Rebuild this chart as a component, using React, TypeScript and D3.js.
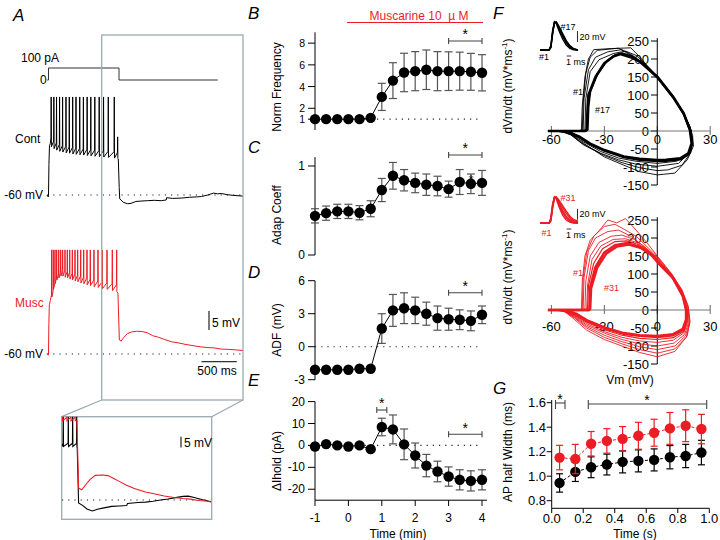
import React from "react";
import * as d3 from "d3";

const FF = "'Liberation Sans', Arial, Helvetica, sans-serif";
const RED = "#ec1c24";

// ---------------- Panels B–E ----------------
const timeMin = [-1, -0.667, -0.333, 0, 0.333, 0.667, 1, 1.333, 1.667, 2, 2.333, 2.667, 3, 3.333, 3.667, 4];
const normFreq = [1, 1, 1, 1, 1, 1.12, 3.05, 4.55, 5.3, 5.42, 5.55, 5.42, 5.42, 5.42, 5.36, 5.27];
const normFreqErr = [0, 0, 0, 0, 0, 0, 1.25, 1.65, 1.77, 1.8, 1.82, 1.8, 1.78, 1.75, 1.7, 1.67];
const adapCoeff = [0.44, 0.47, 0.49, 0.49, 0.475, 0.52, 0.73, 0.89, 0.84, 0.81, 0.79, 0.775, 0.74, 0.82, 0.8, 0.81];
const adapErr = [0.08, 0.08, 0.08, 0.08, 0.08, 0.09, 0.13, 0.15, 0.12, 0.11, 0.12, 0.11, 0.09, 0.14, 0.11, 0.14];
const adfMv = [-2.1, -2.1, -2.1, -2.1, -2.0, -2.0, 1.65, 3.3, 3.5, 3.3, 3.0, 2.6, 2.5, 2.45, 2.35, 2.9];
const adfErr = [0, 0, 0, 0, 0, 0, 1.35, 1.45, 1.4, 1.2, 1.05, 1.1, 1.0, 0.9, 0.9, 0.8];
const iholdPa = [-0.5, 0.6, 0, -0.5, 0, -1.7, 8.4, 7.3, 0.5, -4.6, -9.2, -11.9, -14.2, -15.7, -16.2, -15.7];
const iholdErr = [0.8, 0.8, 0.8, 0.8, 0.8, 0.8, 4, 6.6, 7, 5.7, 5.1, 4.7, 4.4, 4.6, 4.6, 4.6];
const bTicks = [1, 2, 4, 6, 8];
const cTicks = [0, 1];
const dTicks = [-3, 0, 3, 6];
const eTicks = [-20, -10, 0, 10, 20];
const timeTicks = [-1, 0, 1, 2, 3, 4];

// ---------------- Panel G ----------------
const gTime = [0.05, 0.15, 0.25, 0.35, 0.45, 0.55, 0.65, 0.75, 0.85, 0.95];
const gCont = [0.945, 1.035, 1.073, 1.095, 1.117, 1.125, 1.133, 1.155, 1.165, 1.193];
const gContErr = [0.075, 0.078, 0.085, 0.085, 0.09, 0.09, 0.09, 0.095, 0.095, 0.1];
const gMusc = [1.152, 1.14, 1.265, 1.288, 1.305, 1.33, 1.355, 1.39, 1.412, 1.385];
const gMuscErr = [0.1, 0.12, 0.1, 0.1, 0.1, 0.11, 0.11, 0.13, 0.13, 0.12];
const gYTicks = [0.8, 1.0, 1.2, 1.4, 1.6];
const gXTicks = [0, 0.2, 0.4, 0.6, 0.8, 1.0];

// ---------------- Panel A traces (time ms, mV) ----------------
const stepT = [-20, 0, 0, 1000, 1000, 2400];
const stepPa = [0, 0, 100, 100, 0, 0];

const contPre: [number, number][] = [[-25, -60], [-3, -60.5], [0, -60], [6, -52], [14, -47], [25, -46.5]];
const contSpikeT = [38, 76, 114, 157, 200, 248, 295, 343, 390, 443, 495, 548, 600, 657, 719, 781, 848, 933, 981];
const contPeak = [-34.2, -34.2, -34.2, -34.2, -34.2, -34.2, -34.2, -34.2, -34.2, -34.2, -34.2, -34.2, -34.2, -34.2, -34.2, -34.2, -34.2, -34.2, -44.7];
const contTrough = [-47.3, -47.8, -48.2, -48.5, -48.7, -48.9, -49.0, -49.2, -49.3, -49.4, -49.5, -49.6, -49.7, -49.8, -49.9, -50.0, -50.1, -50.3, -50.4];
const contPost: [number, number][] = [[990, -50.5], [1003, -58], [1010, -61], [1060, -61.9], [1120, -62.3], [1170, -62.2], [1240, -61.7], [1310, -61.6], [1400, -61.5], [1500, -61.4], [1600, -61.5], [1670, -61.3], [1675, -60.7], [1760, -60.9], [1890, -60.8], [2000, -60.6], [2100, -60.5], [2170, -60.4], [2260, -60], [2340, -59.5], [2400, -59.7], [2450, -59.6], [2530, -59.9], [2620, -60.1], [2760, -60.3]];

const muscPre: [number, number][] = [[-25, -60], [-3, -60.3], [0, -60], [5, -52], [12, -47], [25, -46]];
const muscSpikeT = [45, 68, 92, 116, 145, 173, 201, 234, 267, 301, 338, 376, 414, 457, 499, 546, 593, 645, 702, 763, 830, 905, 967];
const muscPeak = [-32.6, -32.6, -32.6, -32.6, -32.6, -32.6, -32.6, -32.6, -32.6, -32.6, -32.6, -32.6, -32.6, -32.6, -32.6, -32.6, -32.6, -32.6, -32.6, -32.6, -32.6, -32.6, -32.6];
const muscTrough = [-45, -43, -41.5, -40.5, -40, -39.5, -39.5, -39.8, -40, -40.3, -40.5, -40.8, -41, -41.3, -41.5, -41.8, -42, -42.3, -42.5, -42.8, -43, -43.3, -43.6];
const muscPost: [number, number][] = [[985, -44], [995, -50], [1005, -56.3], [1030, -56.6], [1070, -55.6], [1120, -54.6], [1180, -54.2], [1250, -54.0], [1330, -54.1], [1400, -54.4], [1480, -55.2], [1560, -55.6], [1650, -56.2], [1750, -56.8], [1850, -57.1], [1950, -57.5], [2050, -57.8], [2150, -58.1], [2250, -58.3], [2350, -58.4], [2450, -58.7], [2550, -58.8], [2650, -58.9], [2760, -59.1]];

const insetContSpikeT = [804, 871, 929, 983];
const insetContPeak = [-18, -18, -18, -18];
const insetContTrough = [-35, -35, -35, -35];
const insetContPost: [number, number][] = [[990, -36], [1000, -50], [1008, -61.4], [1060, -62.5], [1120, -64.2], [1190, -65.1], [1260, -64.3], [1330, -63.8], [1450, -63], [1550, -62.8], [1650, -62.6], [1660, -61.6], [1800, -61.2], [1900, -61], [2000, -60.6], [2100, -60], [2200, -59.5], [2300, -58.9], [2400, -58.3], [2470, -58.2], [2550, -58.8], [2650, -59.8], [2773, -60.8]];
const insetMuscSpikeT = [795, 850, 905, 960];
const insetMuscPeak = [-18, -18, -18, -18];
const insetMuscTrough = [-23, -23, -23, -23];
const insetMuscPost: [number, number][] = [[985, -23], [998, -40], [1008, -54.4], [1050, -55.2], [1100, -53], [1160, -50.5], [1230, -48.5], [1320, -48.3], [1400, -48.6], [1470, -49.8], [1550, -51.3], [1640, -53], [1750, -54.6], [1900, -56.3], [2030, -57.2], [2150, -58.1], [2280, -58.8], [2400, -59.3], [2500, -59.6], [2600, -60.2], [2700, -60.5], [2773, -60.9]];

// ---------------- Panel F: phase plots (Vm, dVm/dt) ----------------
type P = [number, number];
const contLoops: P[][] = [
  [[-61, 0], [-50, 0], [-45, 0], [-43, 3], [-42.5, 70], [-41, 150], [-39, 200], [-36, 226], [-26, 229], [-15, 231], [-10, 206], [-5, 178], [0, 151], [8, 103], [14, 58], [18, 18], [20, -12], [20.5, -42], [17, -80], [10, -117], [0, -122], [-10, -113], [-19, -95], [-30, -72], [-44, -27], [-51, -2], [-56, 0]],
  [[-61, 0], [-50, 0], [-44, 0], [-42.5, 3], [-42, 80], [-40.5, 160], [-38, 205], [-34, 224], [-22, 230], [-13, 205], [-5, 177], [0, 152], [8, 102], [14, 57], [18.5, 13], [20, -25], [19, -60], [14, -95], [6, -108], [0, -110], [-10, -102], [-20, -88], [-30, -68], [-42, -38], [-49, -10], [-55, 0]],
  [[-61, 0], [-50, 0], [-43, 0], [-42, 3], [-41.5, 90], [-39, 170], [-35, 205], [-28, 220], [-20, 226], [-14, 210], [-6, 181], [0, 153], [9, 97], [15, 51], [19, 6], [20, -33], [18, -62], [12, -90], [0, -98], [-12, -92], [-22, -80], [-32, -62], [-42, -36], [-49, -11], [-55, 0]],
  [[-61, 0], [-50, 0], [-42, 0], [-41, 3], [-40.5, 90], [-38, 165], [-33, 198], [-25, 215], [-18, 222], [-12, 210], [-6, 182], [0, 152], [9, 96], [15, 49], [19, 3], [19.7, -35], [17.5, -64], [11, -84], [0, -90], [-12, -84], [-22, -75], [-32, -57], [-42, -30], [-50, -6], [-55, 0]],
  [[-62, 0], [-52, 0], [-41, 0], [-40, 4], [-39.5, 60], [-39, 100], [-35, 150], [-30, 188], [-25, 207], [-21, 214], [-15, 205], [-10, 193], [0, 151], [9, 95], [15, 49], [18.5, 3], [19.5, -34], [17.6, -62], [13, -76], [5, -80], [0, -80.5], [-10, -77], [-19, -71], [-30, -53], [-38, -35], [-44, -16], [-51, -2], [-56, 0]],
  [[-62, 0], [-52, 0], [-40.5, 0], [-39.5, 4], [-39, 70], [-38, 110], [-34, 158], [-29, 192], [-24, 210], [-20, 216], [-14, 206], [-9, 190], [0, 149], [9, 93], [15, 47], [18.8, 0], [19.8, -36], [18, -64], [13, -79], [5, -83], [0, -84], [-10, -80], [-19, -73], [-30, -55], [-38, -37], [-44, -18], [-51, -3], [-56, 0]],
];
const contLoopWidth = [0.9, 0.9, 0.9, 0.9, 2.6, 2.2];

const muscLoops: P[][] = [
  [[-61, 0], [-50, 0], [-44, 0], [-43, 3], [-42.5, 80], [-41, 150], [-38, 194], [-33, 220], [-28, 250], [-23, 242], [-18, 254], [-12, 222], [-6, 188], [0, 150], [8, 102], [14, 56], [17.5, 12], [18.5, -30], [17, -72], [10, -115], [0, -130], [-10, -118], [-20, -100], [-30, -82], [-40, -56], [-47, -26], [-52, -6], [-57, 0]],
  [[-61, 0], [-50, 0], [-43, 0], [-42.5, 3], [-42, 90], [-40, 160], [-36, 205], [-30, 232], [-24, 238], [-19, 225], [-12, 205], [-5, 172], [0, 148], [8, 100], [14, 54], [17.5, 8], [18.5, -35], [16.5, -75], [10, -108], [0, -120], [-10, -110], [-20, -94], [-30, -76], [-40, -50], [-47, -22], [-53, -3], [-57, 0]],
  [[-61, 0], [-50, 0], [-42.5, 0], [-42, 3], [-41.5, 90], [-39, 165], [-35, 200], [-28, 218], [-22, 222], [-15, 205], [-7, 175], [0, 145], [8, 98], [14, 52], [17.5, 5], [18, -38], [16, -72], [10, -100], [0, -110], [-10, -102], [-20, -88], [-30, -70], [-40, -46], [-47, -20], [-53, -3], [-57, 0]],
  [[-61, 0], [-50, 0], [-42, 0], [-41, 3], [-40.5, 80], [-38, 150], [-33, 188], [-26, 205], [-20, 208], [-13, 196], [-6, 170], [0, 142], [8, 96], [14, 50], [17, 4], [17.5, -38], [15.5, -68], [9.5, -92], [0, -100], [-10, -94], [-20, -82], [-30, -64], [-40, -42], [-47, -18], [-53, -2], [-57, 0]],
  [[-61, 0], [-50, 0], [-41, 0], [-40, 3], [-39.5, 70], [-37, 140], [-32, 178], [-25, 196], [-18, 198], [-12, 188], [-5, 165], [0, 139], [8, 94], [14, 46], [16.8, 2], [17, -36], [15, -64], [9, -84], [0, -90], [-10, -86], [-20, -76], [-30, -60], [-40, -38], [-47, -16], [-53, -2], [-57, 0]],
  [[-61, 0], [-50, 0], [-40, 0], [-39.5, 3], [-39, 68], [-36, 130], [-31, 170], [-24, 190], [-17, 192], [-11, 182], [-4, 160], [0, 138], [8, 92], [14, 44], [16.7, 1], [16.8, -32], [15, -60], [9, -77], [0, -82], [-10, -79], [-20, -70], [-30, -55], [-40, -34], [-47, -14], [-53, -2], [-57, 0]],
  [[-62, 0], [-52, 0], [-39, 0], [-38.5, 3], [-38, 65], [-35, 120], [-30, 160], [-24, 180], [-17, 186], [-10, 175], [-4, 155], [0, 136], [9, 90], [14.5, 40], [16.6, 0], [16.6, -28], [15, -55], [9, -70], [0, -75], [-10, -72], [-19, -66], [-30, -50], [-40, -30], [-46, -12], [-52, -1], [-57, 0]],
  [[-62, 0], [-52, 0], [-38.5, 0], [-38, 3], [-37.5, 60], [-34, 118], [-29, 156], [-23, 176], [-16, 182], [-9, 172], [-3, 152], [0, 133], [9, 88], [14.5, 38], [16.3, 0], [16.3, -26], [14.5, -52], [9, -67], [0, -72], [-10, -70], [-19, -64], [-30, -48], [-40, -28], [-46, -10], [-52, -1], [-57, 0]],
];
const muscLoopWidth = [0.9, 0.9, 0.9, 0.9, 0.9, 1.2, 2.4, 2.4];

const fXTicks = [-60, -30, 0, 30];
const fYTicks = [-150, -100, -50, 0, 50, 100, 150, 200, 250];

// small AP waveforms (ms, mV)
const apT = [0, 2.0, 2.4, 2.8, 3.2, 3.6, 4.2, 5.0, 5.8, 6.6, 7.4, 8.4];
const apCont: number[][] = [
  [-60, -60, -52, -24, -9, -12, -25, -40, -51, -57, -59.5, -60],
  [-60, -60, -54, -27, -9.5, -10.5, -21, -35, -47, -55, -58.5, -60],
  [-60, -60, -55, -29, -10, -9.5, -19, -32, -45, -53.5, -58, -60],
  [-60, -60, -56, -30, -10, -9, -17, -30, -43, -52, -57.5, -60],
];
const apMusc: number[][] = [
  [-60, -60, -50, -24, -12, -16, -30, -45, -54, -58, -59.5, -60],
  [-60, -60, -52, -27, -12.5, -14, -26, -40, -50, -56, -58.5, -59.5],
  [-60, -60, -53, -28, -12.5, -13, -24, -37, -47, -53.5, -57, -58.5],
  [-60, -60, -55, -30, -13, -12.5, -21, -32, -42, -50, -55, -57.5],
  [-60, -60, -56, -32, -14, -12, -18, -28, -38, -47, -53, -56],
];

function spikeTrace(pre: P[], ts: number[], peaks: number[], troughs: number[], post: P[]): P[] {
  const pts: P[] = [...pre];
  let prev = pre[pre.length - 1][1];
  ts.forEach((t, i) => {
    pts.push([t - 3, prev + 1.5]);
    pts.push([t, peaks[i]]);
    pts.push([t + 3, troughs[i]]);
    prev = troughs[i];
  });
  return pts.concat(post);
}

function ErrSeries({ x, y, xs, vals, errs, color, errColor, cap, dashed, r }: any) {
  const line = d3.line<number>().x((_, i) => x(xs[i])).y((v) => y(v));
  return (
    <g>
      <path d={line(vals) || ""} fill="none" stroke={color} strokeWidth={1} strokeDasharray={dashed ? "3,2" : undefined} />
      {vals.map((v: number, i: number) =>
        errs[i] > 0 ? (
          <g key={"e" + i} stroke={errColor} strokeWidth={1.2}>
            <line x1={x(xs[i])} x2={x(xs[i])} y1={y(v - errs[i])} y2={y(v + errs[i])} />
            <line x1={x(xs[i]) - cap} x2={x(xs[i]) + cap} y1={y(v - errs[i])} y2={y(v - errs[i])} />
            <line x1={x(xs[i]) - cap} x2={x(xs[i]) + cap} y1={y(v + errs[i])} y2={y(v + errs[i])} />
          </g>
        ) : null
      )}
      {vals.map((v: number, i: number) => (
        <circle key={"c" + i} cx={x(xs[i])} cy={y(v)} r={r} fill={color} />
      ))}
    </g>
  );
}

function Bracket({ x1, x2, y, star, sy, size = 14 }: any) {
  return (
    <g stroke="#444" strokeWidth={1.1}>
      <line x1={x1} x2={x2} y1={y} y2={y} />
      <line x1={x1} x2={x1} y1={y - 3} y2={y + 3} />
      <line x1={x2} x2={x2} y1={y - 3} y2={y + 3} />
      {star && (
        <text x={(x1 + x2) / 2} y={sy} textAnchor="middle" fontSize={size} stroke="none" fill="#000">
          *
        </text>
      )}
    </g>
  );
}

function TimePanel({ y, vals, errs, ticks, top, bottom, refLine, label, labelY, tickFont = 12 }: any) {
  const xT = d3.scaleLinear().domain([-1, 4]).range([315, 482]);
  return (
    <g>
      <line x1={315} x2={315} y1={y(top)} y2={y(bottom)} stroke="#000" strokeWidth={1} />
      {ticks.map((t: number) => (
        <g key={t}>
          <line x1={308} x2={315} y1={y(t)} y2={y(t)} stroke="#000" />
          <text x={305} y={y(t)} textAnchor="end" dominantBaseline="central" fontSize={tickFont}>
            {String(t)}
          </text>
        </g>
      ))}
      {refLine !== undefined && (
        <line x1={315} x2={482} y1={y(refLine)} y2={y(refLine)} stroke="#222" strokeWidth={1.1} strokeDasharray="1.2,5" />
      )}
      <ErrSeries x={xT} y={y} xs={timeMin} vals={vals} errs={errs} color="#000" errColor="#555" cap={4} r={5.2} />
      <text transform={`translate(281,${labelY}) rotate(-90)`} textAnchor="middle" fontSize={12}>
        {label}
      </text>
    </g>
  );
}

function PhasePanel({ y, loops, widths, color, xLabelDy }: any) {
  const xF = d3.scaleLinear().domain([-60, 30]).range([551.4, 710.2]);
  const line = d3.line<P>().x((d) => xF(d[0])).y((d) => y(d[1]));
  const y0 = y(0);
  return (
    <g>
      {fYTicks.map((t) => (
        <g key={t}>
          <text x={649} y={y(t)} textAnchor="end" dominantBaseline="central" fontSize={13}>
            {String(t)}
          </text>
          <line x1={651} x2={xF(0)} y1={y(t)} y2={y(t)} stroke="#000" />
        </g>
      ))}
      {fXTicks.map((t) => (
        <g key={t}>
          <text x={xF(t)} y={y0 + xLabelDy} textAnchor="middle" dominantBaseline="central" fontSize={13}>
            {String(t)}
          </text>
          <line x1={xF(t)} x2={xF(t)} y1={y0 - 5} y2={y0 + 4} stroke="#666" />
        </g>
      ))}
      <line x1={xF(-60)} x2={xF(30)} y1={y0} y2={y0} stroke="#777" strokeWidth={1.2} />
      <line x1={xF(0)} x2={xF(0)} y1={y(258)} y2={y(-150)} stroke="#000" />
      {loops.map((lp: P[], i: number) => (
        <path key={i} d={line(lp) || ""} fill="none" stroke={color} strokeWidth={widths[i]} strokeLinejoin="round" />
      ))}
    </g>
  );
}

export default function App() {
  // A scales
  const xA = d3.scaleLinear().domain([0, 1000]).range([48.5, 119]);
  const yCont = d3.scaleLinear().domain([-60, -55]).range([195, 176]);
  const yMusc = d3.scaleLinear().domain([-60, -55]).range([354, 335]);
  const yStep = d3.scaleLinear().domain([0, 100]).range([80, 68]);
  const xIn = d3.scaleLinear().domain([787, 2773]).range([62, 211]);
  const yIn = d3.scaleLinear().domain([-60, -55]).range([500, 489.3]);

  const lineA = (xs: any, ys: any) => d3.line<P>().x((d) => xs(d[0])).y((d) => ys(d[1]));
  const contPts = spikeTrace(contPre, contSpikeT, contPeak, contTrough, contPost);
  const muscPts = spikeTrace(muscPre, muscSpikeT, muscPeak, muscTrough, muscPost);
  const inContPts = spikeTrace([[787, -35]], insetContSpikeT, insetContPeak, insetContTrough, insetContPost);
  const inMuscPts = spikeTrace([[787, -23]], insetMuscSpikeT, insetMuscPeak, insetMuscTrough, insetMuscPost);
  const stepPts: P[] = stepT.map((t, i) => [t, stepPa[i]]);

  // B–E scales
  const yB = d3.scaleLinear().domain([0, 9]).range([130, 32.3]);
  const yC = d3.scaleLinear().domain([0, 1.1]).range([255, 157.1]);
  const yD = d3.scaleLinear().domain([-3, 6]).range([379.7, 280.7]);
  const yE = d3.scaleLinear().domain([-25, 20]).range([500.2, 401.6]);
  const xT = d3.scaleLinear().domain([-1, 4]).range([315, 482]);

  // F scales
  const yFtop = d3.scaleLinear().domain([-150, 250]).range([185, 41]);
  const yFbot = d3.scaleLinear().domain([-150, 250]).range([364, 220]);
  const xAp = d3.scaleLinear().domain([0, 8.4]).range([540, 578]);
  const yApTop = d3.scaleLinear().domain([-60, -40]).range([50, 39]);
  const yApBot = d3.scaleLinear().domain([-60, -40]).range([223.3, 212.3]);
  const apLine = (ys: any) => d3.line<number>().x((_, i) => xAp(apT[i])).y((v) => ys(v));

  // G scales
  const xG = d3.scaleLinear().domain([0, 1]).range([551.7, 709.3]);
  const yG = d3.scaleLinear().domain([0.8, 1.6]).range([500.7, 402.7]);

  const boxC = "#9aabb3";

  return (
    <svg width={720} height={540} style={{ position: "absolute", left: 0, top: 0, background: "#fff" }} fontFamily={FF}>
      {/* ---------------- Panel A ---------------- */}
      <text x={13} y={21} fontSize={17} fontStyle="italic">A</text>
      <text x={21} y={62} fontSize={12}>100 pA</text>
      <text x={40} y={84} fontSize={12}>0</text>
      <path d={lineA(xA, yStep)(stepPts) || ""} fill="none" stroke="#333" strokeWidth={1} />

      <text x={15} y={143} fontSize={12}>Cont</text>
      <text x={43} y={199} fontSize={12} textAnchor="end">-60 mV</text>
      <line x1={47} x2={243} y1={195} y2={195} stroke="#222" strokeWidth={1.1} strokeDasharray="1.2,5" />
      <path d={lineA(xA, yCont)(contPts) || ""} fill="none" stroke="#000" strokeWidth={1} />

      <text x={15} y={307} fontSize={12} fill={RED}>Musc</text>
      <text x={43} y={358} fontSize={12} textAnchor="end">-60 mV</text>
      <line x1={47} x2={243} y1={354} y2={354} stroke="#222" strokeWidth={1.1} strokeDasharray="1.2,5" />
      <path d={lineA(xA, yMusc)(muscPts) || ""} fill="none" stroke={RED} strokeWidth={1} />

      {/* scale bars */}
      <line x1={209} x2={209} y1={yMusc(-55) - 24} y2={yMusc(-60) - 24} stroke="#333" strokeWidth={1.3} />
      <text x={212} y={323} fontSize={12} dominantBaseline="central">5 mV</text>
      <line x1={xA(2170)} x2={xA(2670)} y1={361.7} y2={361.7} stroke="#333" strokeWidth={1.3} />
      <text x={217} y={375} fontSize={12} textAnchor="middle">500 ms</text>

      {/* zoom rectangle and inset */}
      <rect x={101.7} y={35} width={141.3} height={365} fill="none" stroke={boxC} strokeWidth={1.3} />
      <line x1={101.7} y1={400} x2={61.7} y2={416.7} stroke={boxC} strokeWidth={1.3} />
      <line x1={243} y1={400} x2={211.7} y2={416.7} stroke={boxC} strokeWidth={1.3} />
      <rect x={61.7} y={416.7} width={150} height={102.6} fill="#fff" stroke={boxC} strokeWidth={1.3} />
      <defs>
        <clipPath id="inclip">
          <rect x={61.7} y={416.7} width={150} height={102.6} />
        </clipPath>
      </defs>
      <g clipPath="url(#inclip)">
        <line x1={62} x2={211} y1={yIn(-60)} y2={yIn(-60)} stroke="#222" strokeWidth={1.1} strokeDasharray="1.2,5" />
        <path d={lineA(xIn, yIn)(inContPts) || ""} fill="none" stroke="#000" strokeWidth={1.1} />
        <path d={lineA(xIn, yIn)(inMuscPts) || ""} fill="none" stroke={RED} strokeWidth={1.1} />
      </g>
      <line x1={181} x2={181} y1={yIn(-55) - 52.6} y2={yIn(-60) - 52.6} stroke="#333" strokeWidth={1.3} />
      <text x={184} y={447} fontSize={12}>5 mV</text>

      {/* ---------------- Panels B–E ---------------- */}
      <text x={248} y={19} fontSize={17} fontStyle="italic">B</text>
      <text x={248} y={153} fontSize={17} fontStyle="italic">C</text>
      <text x={248} y={278} fontSize={17} fontStyle="italic">D</text>
      <text x={248} y={386} fontSize={17} fontStyle="italic">E</text>

      <text x={419} y={20} fontSize={12} fill={RED} textAnchor="middle">{"Muscarine 10\u00a0\u00a0\u00b5\u00a0M"}</text>
      <line x1={347} x2={483} y1={22.5} y2={22.5} stroke={RED} strokeWidth={1.2} />

      <TimePanel y={yB} vals={normFreq} errs={normFreqErr} ticks={bTicks} top={9} bottom={0} refLine={1} label="Norm Frequency" labelY={87} tickFont={10.5} />
      <Bracket x1={xT(3)} x2={xT(4)} y={41} star sy={39} />

      <TimePanel y={yC} vals={adapCoeff} errs={adapErr} ticks={cTicks} top={1.1} bottom={0} label="Adap Coeff" labelY={215} />
      <Bracket x1={xT(3)} x2={xT(4)} y={155} star sy={153} />
      <text x={471} y={184} fontSize={12} textAnchor="middle">*</text>

      <TimePanel y={yD} vals={adfMv} errs={adfErr} ticks={dTicks} top={6} bottom={-3} refLine={0} label="ADF (mV)" labelY={330} />
      <Bracket x1={xT(3)} x2={xT(4)} y={292.7} star sy={291} />

      <TimePanel y={yE} vals={iholdPa} errs={iholdErr} ticks={eTicks} top={20} bottom={-25} refLine={0} label="ΔIhold (pA)" labelY={461} />
      <Bracket x1={xT(3)} x2={xT(4)} y={434.3} star sy={433} />
      <Bracket x1={xT(0.85)} x2={xT(1.15)} y={410} star sy={408} />
      <line x1={315} x2={487} y1={500.2} y2={500.2} stroke="#000" />
      {timeTicks.map((t) => (
        <g key={t}>
          <line x1={xT(t)} x2={xT(t)} y1={500.2} y2={506} stroke="#000" />
          <text x={xT(t)} y={518} textAnchor="middle" dominantBaseline="central" fontSize={12}>
            {String(t)}
          </text>
        </g>
      ))}
      <text x={398} y={534} textAnchor="middle" dominantBaseline="central" fontSize={12}>Time (min)</text>

      {/* ---------------- Panel F ---------------- */}
      <text x={493} y={19} fontSize={17} fontStyle="italic">F</text>
      <PhasePanel y={yFtop} loops={contLoops} widths={contLoopWidth} color="#000" xLabelDy={8} />
      <PhasePanel y={yFbot} loops={muscLoops} widths={muscLoopWidth} color={RED} xLabelDy={16.5} />
      <text transform="translate(508,86) rotate(-90)" textAnchor="middle" dominantBaseline="central" fontSize={12}>
        dVm/dt (mV*ms<tspan dy={-4} fontSize={8}>-1</tspan><tspan dy={4}>)</tspan>
      </text>
      <text transform="translate(508,277) rotate(-90)" textAnchor="middle" dominantBaseline="central" fontSize={12}>
        dVm/dt (mV*ms<tspan dy={-4} fontSize={8}>-1</tspan><tspan dy={4}>)</tspan>
      </text>
      <text x={630} y={380} textAnchor="middle" dominantBaseline="central" fontSize={12}>Vm (mV)</text>
      {/* loop labels */}
      <text x={573} y={92} fontSize={9} dominantBaseline="central">#1</text>
      <text x={595} y={110} fontSize={9} dominantBaseline="central">#17</text>
      <text x={573} y={273} fontSize={9} fill={RED} dominantBaseline="central">#1</text>
      <text x={604} y={288} fontSize={9} fill={RED} dominantBaseline="central">#31</text>

      {/* AP insets */}
      {apCont.map((v, i) => (
        <path key={"ac" + i} d={apLine(yApTop)(v) || ""} fill="none" stroke="#000" strokeWidth={1.4} />
      ))}
      {apMusc.map((v, i) => (
        <path key={"am" + i} d={apLine(yApBot)(v) || ""} fill="none" stroke={RED} strokeWidth={1.4} />
      ))}
      <text x={560.5} y={26.5} fontSize={9} dominantBaseline="central">#17</text>
      <text x={539} y={57} fontSize={9} dominantBaseline="central">#1</text>
      <line x1={577.5} x2={577.5} y1={yApTop(-40) - 8} y2={yApTop(-60) - 8} stroke="#333" strokeWidth={1} />
      <text x={579.5} y={36.5} fontSize={9} dominantBaseline="central">20 mV</text>
      <line x1={xAp(5.9)} x2={xAp(6.9)} y1={56} y2={56} stroke="#333" strokeWidth={1} />
      <text x={566} y={62} fontSize={9} dominantBaseline="central">1 ms</text>

      <text x={560.5} y={197.5} fontSize={9} fill={RED} dominantBaseline="central">#31</text>
      <text x={541.5} y={233} fontSize={9} fill={RED} dominantBaseline="central">#1</text>
      <line x1={577.5} x2={577.5} y1={yApBot(-40) - 3.5} y2={yApBot(-60) - 3.5} stroke="#333" strokeWidth={1} />
      <text x={579.5} y={214} fontSize={9} dominantBaseline="central">20 mV</text>
      <line x1={xAp(5.9)} x2={xAp(6.9)} y1={229} y2={229} stroke="#333" strokeWidth={1} />
      <text x={566} y={235} fontSize={9} dominantBaseline="central">1 ms</text>

      {/* ---------------- Panel G ---------------- */}
      <text x={493} y={394} fontSize={17} fontStyle="italic">G</text>
      <line x1={xG(0)} x2={xG(0)} y1={400} y2={508.3} stroke="#000" />
      <line x1={xG(0)} x2={xG(1)} y1={508.3} y2={508.3} stroke="#000" />
      {gYTicks.map((t) => (
        <g key={t}>
          <line x1={xG(0) - 5} x2={xG(0)} y1={yG(t)} y2={yG(t)} stroke="#000" />
          <text x={546} y={yG(t)} textAnchor="end" dominantBaseline="central" fontSize={13}>
            {t.toFixed(1)}
          </text>
        </g>
      ))}
      {gXTicks.map((t) => (
        <g key={t}>
          <line x1={xG(t)} x2={xG(t)} y1={508.3} y2={513} stroke="#000" />
          <text x={xG(t)} y={518.5} textAnchor="middle" dominantBaseline="central" fontSize={13}>
            {t.toFixed(1)}
          </text>
        </g>
      ))}
      <text x={635} y={534} textAnchor="middle" dominantBaseline="central" fontSize={12}>Time (s)</text>
      <text transform="translate(508,452) rotate(-90)" textAnchor="middle" dominantBaseline="central" fontSize={12}>
        AP half Width (ms)
      </text>
      <ErrSeries x={xG} y={yG} xs={gTime} vals={gCont} errs={gContErr} color="#000" errColor="#000" cap={3.5} r={5.2} dashed />
      <ErrSeries x={xG} y={yG} xs={gTime} vals={gMusc} errs={gMuscErr} color={RED} errColor={RED} cap={3.5} r={5.2} dashed />
      <g stroke="#444" strokeWidth={1.1}>
        <line x1={555.5} x2={565} y1={403} y2={403} />
        <line x1={555.5} x2={555.5} y1={400} y2={409} />
        <line x1={565} x2={565} y1={400} y2={409} />
        <line x1={588.3} x2={706.7} y1={404} y2={404} />
        <line x1={588.3} x2={588.3} y1={400} y2={409} />
        <line x1={706.7} x2={706.7} y1={400} y2={409} />
      </g>
      <text x={560} y={404} fontSize={14} textAnchor="middle">*</text>
      <text x={647} y={405} fontSize={14} textAnchor="middle">*</text>
    </svg>
  );
}
